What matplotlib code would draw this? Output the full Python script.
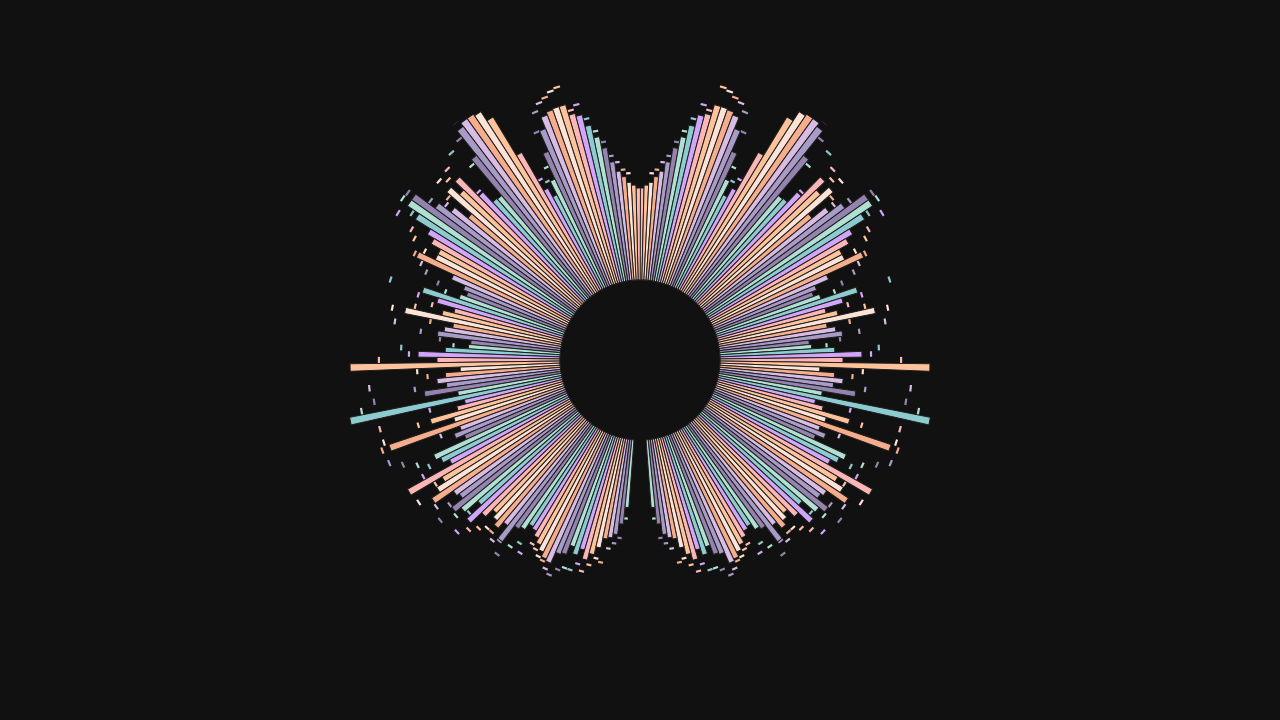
import numpy as np
import matplotlib
matplotlib.use("Agg")
import matplotlib.pyplot as plt

# ---- data: right half (mirrored to the left), angle measured clockwise from top
bar_len = [172, 175, 178, 184, 190, 200, 215, 227, 240, 252,
           255, 266, 266, 265, 262, 250, 228, 200, 185, 195,
           239, 284, 295, 297, 297, 293, 262, 215, 216, 230,
           257, 245, 256, 223, 240, 255, 279, 279, 265, 247,
           239, 228, 228, 246, 205, 190, 185, 191, 228, 211,
           192, 203, 240, 190, 198, 204, 170, 172, 195, 222,
           203, 290, 180, 195, 204, 195, 218, 185, 296, 180,
           189, 218, 195, 265, 192, 200, 191, 227, 222, 215,
           266, 230, 240, 250, 228, 225, 239, 232, 215, 235,
           220, 210, 215, 220, 212, 228, 208, 205, 198, 200,
           205, 210, 215, 220, 222, 210, 208, 198, 205, 198,
           207, 200, 192, 182, 180, 176, 165, 148]

dash_r = [165, 168, 186, 190, 198, 205, 220, 232, 246, 262,
          258, 284, 282, 278, 275, 268, 249, 213, 200, 205,
          228, 271, 302, 286, 310, 300, 284, 256, 279, 232,
          270, 262, 268, 250, 247, 262, 285, 286, 270, 282,
          262, 255, 240, 248, 238, 230, 215, 205, 261, 230,
          214, 230, 252, 212, 247, 220, 200, 186, 238, 230,
          260, 275, 222, 212, 271, 226, 268, 282, 280, 215,
          268, 230, 268, 272, 212, 270, 258, 245, 235, 245,
          256, 238, 262, 247, 250, 238, 255, 240, 228, 250,
          240, 232, 226, 226, 232, 228, 240, 226, 218, 226,
          212, 215, 220, 222, 228, 232, 224, 220, 220, 212,
          218, 210, 202, 205, 190, 184, 178, 158]

palette = ["#FDB6B6", "#FFC39B", "#FCE3D6", "#F6AD8C", "#D8BCE3",
           "#A99BC7", "#9483AE", "#B0E0D2", "#8CCBCF", "#D1A6FA"]

BG = "#111111"
EDGE = "#1e1e1e"
INNER = 80
START = np.deg2rad(0.6)
STEP = np.deg2rad(1.49)

fig = plt.figure(figsize=(12.8, 7.2), dpi=100, facecolor=BG)
ax = fig.add_axes([(640 - 300) / 1280, (360 - 300) / 720, 600 / 1280, 600 / 720],
                  projection="polar", facecolor=BG)
ax.set_theta_zero_location("N")
ax.set_theta_direction(-1)
ax.set_rlim(0, 300)
ax.set_axis_off()

n = len(bar_len)
idx = np.arange(n)
theta_r = START + idx * STEP
theta = np.concatenate([theta_r, -theta_r])
heights = np.concatenate([bar_len, bar_len]) - INNER
dash = np.concatenate([dash_r, dash_r])
cols = [palette[i % 10] for i in idx] * 2

# small tangential markers (behind the bars)
ax.bar(theta, 2.2, width=STEP * 0.92, bottom=dash, color=cols,
       linewidth=0, zorder=1)

# radial bars
ax.bar(theta, heights, width=STEP, bottom=INNER, color=cols,
       edgecolor=EDGE, linewidth=0.7, zorder=2)

fig.savefig("out.png", dpi=100, facecolor=BG)
